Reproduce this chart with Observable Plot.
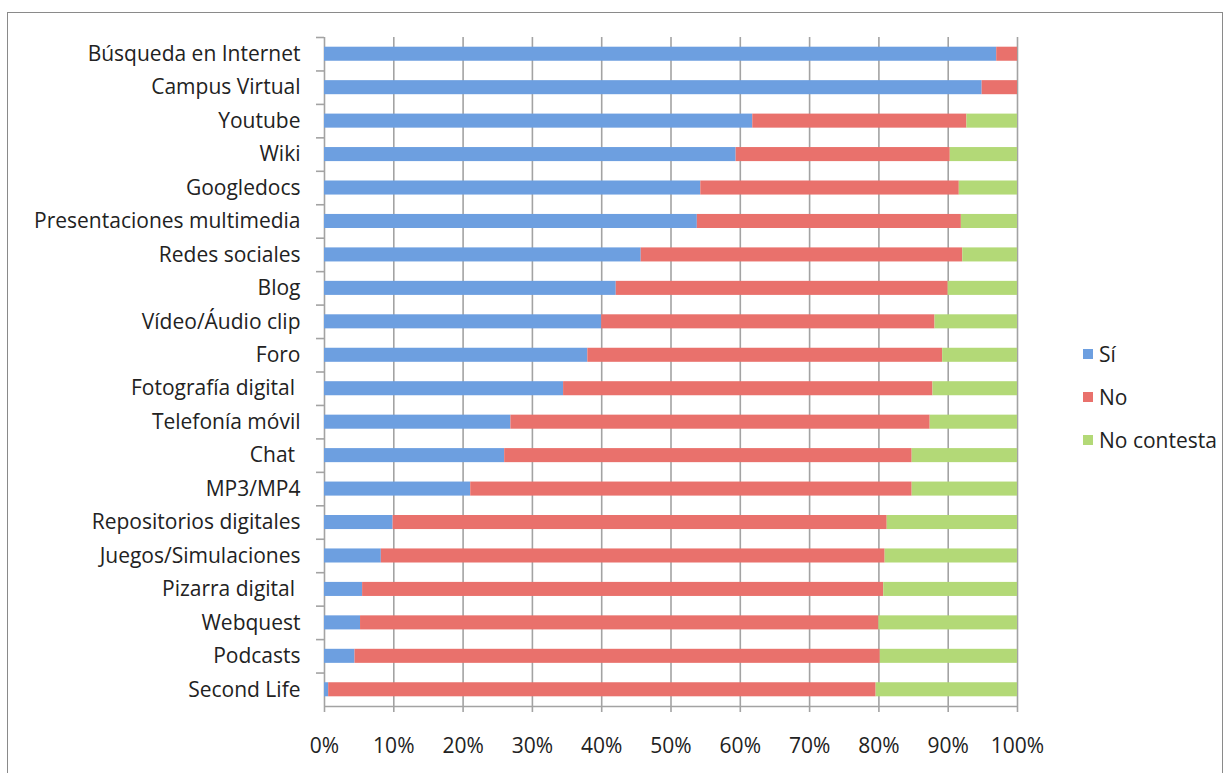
<!DOCTYPE html>
<html><head><meta charset="utf-8">
<script src="https://cdn.jsdelivr.net/npm/d3@7"></script>
<script src="https://cdn.jsdelivr.net/npm/@observablehq/plot@0.6"></script>
<style>
body{margin:0;background:#fff;font-family:"Open Sans",sans-serif;}
#wrap{position:relative;width:1230px;height:773px;overflow:hidden;}
#frame{position:absolute;left:7px;top:12px;width:1214px;height:800px;border:1px solid #8a8a8a;}
#chart{position:absolute;left:0;top:0;}
#legend{position:absolute;left:1083px;top:333px;font-size:21px;color:#222;}
#legend div{height:43px;line-height:43px;display:flex;align-items:center;}
#legend span.sw{display:inline-block;width:10px;height:10px;margin-right:6px;margin-top:-2px;}
</style></head>
<body><div id="wrap"><div id="frame"></div><div id="chart"></div><div id="legend"></div></div>
<script>
const categories = ["Búsqueda en Internet","Campus Virtual","Youtube","Wiki","Googledocs","Presentaciones multimedia","Redes sociales","Blog","Vídeo/Áudio clip","Foro","Fotografía digital\u00a0","Telefonía móvil","Chat\u00a0","MP3/MP4","Repositorios digitales","Juegos/Simulaciones","Pizarra digital\u00a0","Webquest","Podcasts","Second Life"];
const si = [97.0,94.9,61.8,59.4,54.3,53.8,45.7,42.1,40.0,38.0,34.5,26.9,26.0,21.1,9.9,8.2,5.5,5.2,4.4,0.6];
const no = [3.0,5.1,30.9,30.9,37.3,38.1,46.4,47.9,48.1,51.2,53.3,60.5,58.8,63.7,71.3,72.7,75.2,74.8,75.8,79.0];
const noContesta = [0,0,7.3,9.7,8.4,8.1,7.9,10.0,11.9,10.8,12.2,12.6,15.2,15.2,18.8,19.1,19.3,20.0,19.8,20.4];
const series = ["Sí","No","No contesta"];
const colors = ["#6d9fe0","#e9716c","#b3d977"];
const xTicks = [0,10,20,30,40,50,60,70,80,90,100];

const rows = [];
categories.forEach((c,i)=>{
  rows.push({cat:c, s:series[0], v:si[i]});
  rows.push({cat:c, s:series[1], v:no[i]});
  rows.push({cat:c, s:series[2], v:noContesta[i]});
});

const W=1230,H=773,mt=37,mb=67;
const step=(H-mt-mb)/categories.length;
const grid="#a3a3a3";

const plot = Plot.plot({
  width:W, height:H,
  marginLeft:324, marginRight:213, marginTop:mt, marginBottom:mb,
  style:{fontFamily:"'Open Sans',sans-serif", fontSize:"21px", color:"#222", background:"transparent"},
  x:{domain:[0,100]},
  y:{domain:categories, paddingInner:0.58, paddingOuter:0.29, round:false},
  color:{domain:series, range:colors},
  marks:[
    Plot.ruleX(xTicks,{x:d=>d, stroke:grid, strokeWidth:1.6}),
    Plot.ruleY(categories,{y:d=>d, x1:0, x2:0, insetLeft:-8, dy:-step/2, stroke:grid, strokeWidth:1.6}),
    Plot.ruleY(categories.slice(-1),{y:d=>d, x1:0, x2:100, dy:step/2, stroke:grid, strokeWidth:1.6}),
    Plot.barX(rows, Plot.stackX({y:"cat", x:"v", fill:"s", order:series})),
    Plot.axisY({tickSize:0, tickPadding:24, fontSize:21, fill:"#222", label:null}),
    Plot.axisX(xTicks,{tickSize:6, tickPadding:26, stroke:grid, strokeWidth:1.6, tickFormat:d=>d+"%", fontSize:21, fill:"#222", label:null})
  ]
});
document.getElementById("chart").appendChild(plot);

const lg = document.getElementById("legend");
series.forEach((s,i)=>{
  const d=document.createElement("div");
  d.innerHTML=`<span class="sw" style="background:${colors[i]}"></span><span>${s}</span>`;
  lg.appendChild(d);
});
</script></body></html>
